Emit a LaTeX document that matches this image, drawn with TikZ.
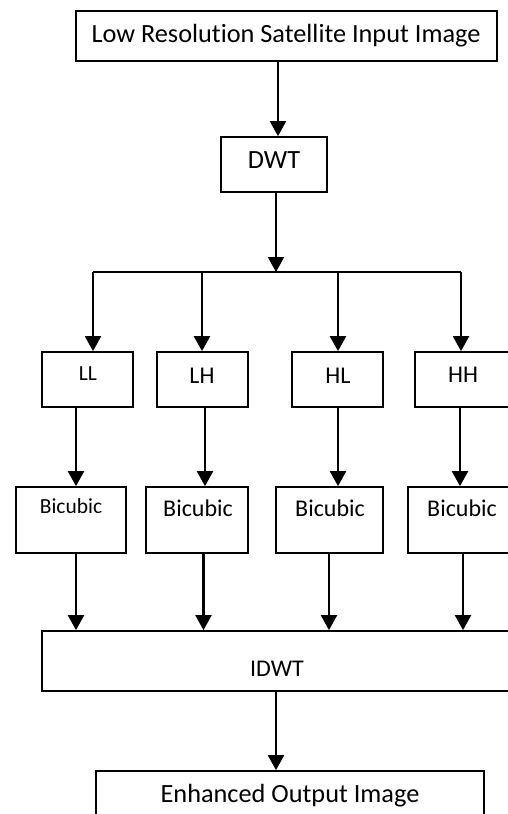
\documentclass[tikz,border=0pt]{standalone}
\usepackage{fontspec}
\setmainfont{Carlito}[Ligatures=CommonOff]
\usetikzlibrary{arrows.meta}
\begin{document}
\begin{tikzpicture}[x=1pt,y=-1pt,
  box/.style={draw=black, line width=1.7pt, rectangle, inner sep=0pt},
  lbl/.style={inner sep=0pt, anchor=base, font=\fontsize{24}{28}\selectfont},
  blbl/.style={inner sep=0pt, anchor=base, font=\fontsize{26.3}{30}\selectfont},
  slbl/.style={inner sep=0pt, anchor=base, font=\fontsize{21.5}{26}\selectfont},
  arr/.style={line width=2.2pt, -{Triangle[width=16pt,length=15pt]}},
  ln/.style={line width=2.2pt}]
\useasboundingbox (0,0) rectangle (508,814);
\clip (0,0) rectangle (508,814);
\fill[white] (0,0) rectangle (508,814);
% boxes
\node[box, minimum width=421pt, minimum height=50pt] (top) at (286.5,36) {};
\node[box, minimum width=106pt, minimum height=55pt] (dwt) at (274,164.5) {};
\node[box, minimum width=91pt, minimum height=55pt] (ll) at (87.5,379.5) {};
\node[box, minimum width=91pt, minimum height=55pt] (lh) at (202.5,379.5) {};
\node[box, minimum width=91pt, minimum height=55pt] (hl) at (337.5,379.5) {};
\node[box, minimum width=97pt, minimum height=55pt] (hh) at (463.5,379.5) {};
\node[box, minimum width=110pt, minimum height=66pt] (bll) at (71,520) {};
\node[box, minimum width=102pt, minimum height=66pt] (blh) at (197,520) {};
\node[box, minimum width=107pt, minimum height=66pt] (bhl) at (329.5,520) {};
\node[box, minimum width=108pt, minimum height=66pt] (bhh) at (462,520) {};
\node[box, minimum width=472pt, minimum height=60pt] (idwt) at (278,661) {};
\node[box, minimum width=388pt, minimum height=52pt] (out) at (290,797) {};
% texts
\node[blbl] (ttop) at (286,42) {Low Resolution Satellite Input Image};
\node[blbl] (tdwt) at (274,168) {DWT};
\node[slbl] (tll) at (88,380) {LL};
\node[lbl] (tlh) at (202,383) {LH};
\node[lbl] (thl) at (338,383) {HL};
\node[lbl] (thh) at (463,382) {HH};
\node[slbl] (tbll) at (71,513) {Bicubic};
\node[lbl] (tblh) at (198,516) {Bicubic};
\node[lbl] (tbhl) at (330,516) {Bicubic};
\node[lbl] (tbhh) at (462,516) {Bicubic};
\node[lbl] (tidwt) at (277,676) {IDWT};
\node[blbl] (tout) at (290,802) {Enhanced Output Image};
% bus
\coordinate (bus) at (276,272);
\coordinate (busL) at (93,272);
\coordinate (busR) at (461,272);
\coordinate (b1) at (93,272);
\coordinate (b2) at (202,272);
\coordinate (b3) at (338,272);
\coordinate (b4) at (461,272);
% connectors
\draw[arr] ([xshift=-8.5pt]top.south) -- ([xshift=4pt]dwt.north);
\draw[arr] ([xshift=2pt]dwt.south) -- (bus);
\draw[ln] (busL) -- (busR);
\draw[arr] (b1) -- ([xshift=5.5pt]ll.north);
\draw[arr] (b2) -- ([xshift=-0.5pt]lh.north);
\draw[arr] (b3) -- ([xshift=0.5pt]hl.north);
\draw[arr] (b4) -- ([xshift=-2.5pt]hh.north);
\draw[arr] ([xshift=-11.5pt]ll.south) -- ([xshift=5pt]bll.north);
\draw[arr] ([xshift=2.5pt]lh.south) -- ([xshift=8pt]blh.north);
\draw[arr] ([xshift=0.5pt]hl.south) -- ([xshift=8.5pt]bhl.north);
\draw[arr] ([xshift=-3.5pt]hh.south) -- ([xshift=-2pt]bhh.north);
\draw[arr] ([xshift=5pt]bll.south) -- ([xshift=-202pt]idwt.north);
\draw[arr] ([xshift=6.5pt]blh.south) -- ([xshift=-74.5pt]idwt.north);
\draw[arr] ([xshift=-0.5pt]bhl.south) -- ([xshift=51pt]idwt.north);
\draw[arr] ([xshift=1pt]bhh.south) -- ([xshift=185pt]idwt.north);
\draw[arr] ([xshift=-2pt]idwt.south) -- ([xshift=-14pt]out.north);
\end{tikzpicture}
\end{document}
